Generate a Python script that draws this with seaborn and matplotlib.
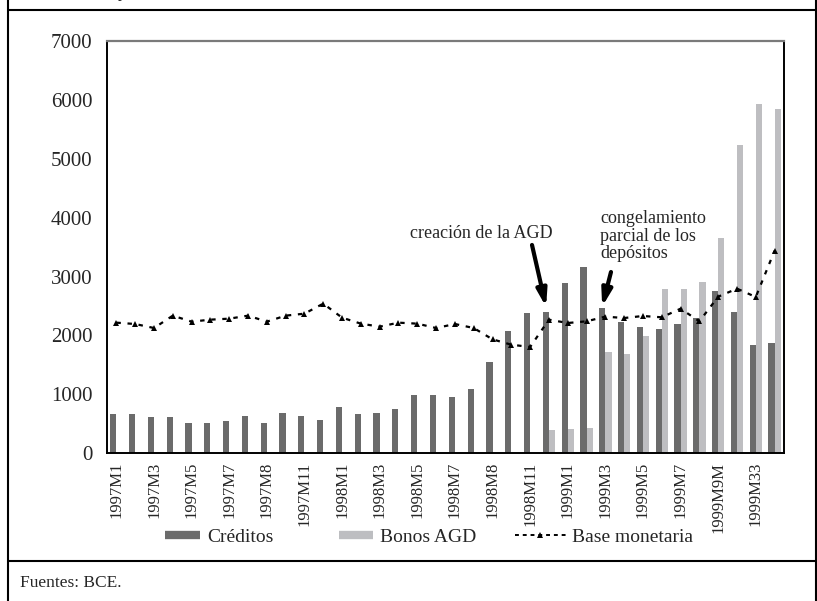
import numpy as np
import pandas as pd
import matplotlib
matplotlib.use("Agg")
import matplotlib.pyplot as plt
from matplotlib.lines import Line2D
import seaborn as sns

# ---------------- data ----------------
categories = [f"c{i}" for i in range(36)]
tick_labels = ["1997M1", "1997M3", "1997M5", "1997M7", "1997M8", "1997M11",
               "1998M1", "1998M3", "1998M5", "1998M7", "1998M8", "1998M11",
               "1999M1", "1999M3", "1999M5", "1999M7", "1999M9M", "1999M33"]
creditos = [667, 667, 616, 616, 514, 514, 548, 633, 514, 684, 633, 565,
            786, 667, 684, 752, 990, 990, 956, 1092, 1550, 2077, 2382, 2399,
            2891, 3163, 2467, 2229, 2144, 2110, 2195, 2302, 2761, 2399, 1844, 1873]
bonos = [np.nan] * 23 + [396, 418, 435, 1720, 1691, 1991, 2795, 2795, 2914,
                         3655, 5240, 5930, 5846]
base_monetaria = [2218, 2195, 2127, 2337, 2235, 2269, 2286, 2337, 2235, 2337,
                  2371, 2541, 2303, 2201, 2150, 2218, 2201, 2127, 2195, 2127,
                  1935, 1844, 1805, 2269, 2212, 2241, 2320, 2297, 2331, 2309,
                  2455, 2241, 2659, 2795, 2654, 3440]
series_names = ["Créditos", "Bonos AGD", "Base monetaria"]
annot1 = "creación de la AGD"
annot2 = "congelamiento\nparcial de los\ndepósitos"
footer = "Fuentes: BCE."

col_cred = "#6b6b6b"
col_bonos = "#bdbec1"

# ---------------- figure ----------------
sns.set_style("white")
plt.rcParams["font.family"] = ["Liberation Serif", "DejaVu Serif"]

fig = plt.figure(figsize=(8.17, 6.01), dpi=100)
ax = fig.add_axes([107 / 817, 1 - 453.3 / 601, (784 - 107) / 817, (453.3 - 41) / 601])

df = pd.DataFrame({
    "cat": categories * 2,
    "serie": [series_names[0]] * 36 + [series_names[1]] * 36,
    "val": creditos + bonos,
}).dropna()

sns.barplot(data=df, x="cat", y="val", hue="serie", order=categories,
            hue_order=series_names[:2], palette=[col_cred, col_bonos],
            width=0.66, linewidth=0, legend=False, ax=ax, errorbar=None)

xpos = np.arange(len(categories))
ax.plot(xpos, base_monetaria, color="black", linestyle=(0, (2, 3)), lw=1.6,
        marker="^", markersize=5, markeredgewidth=0)

ax.set_xlim(-0.5, 35.5)
ax.set_ylim(0, 7000)
ax.set_yticks(range(0, 7001, 1000))
ax.set_xlabel("")
ax.set_ylabel("")

ax.set_xticks(xpos[::2])
ax.set_xticklabels(tick_labels, rotation=90, fontsize=12)
ax.tick_params(axis="x", length=0, pad=6)
ax.set_xticks(np.arange(-0.5, 36, 1), minor=True)
ax.tick_params(axis="x", which="minor", direction="inout", length=9, width=1.2, color="black")
ax.tick_params(axis="y", direction="inout", length=9, width=1.2, color="black",
               labelsize=15, pad=6)

for s in ["left", "bottom", "right"]:
    ax.spines[s].set_visible(True)
    ax.spines[s].set_color("black")
    ax.spines[s].set_linewidth(1.4)
ax.spines["top"].set_visible(True)
ax.spines["top"].set_color("#7a7a7a")
ax.spines["top"].set_linewidth(1.6)

# annotations
ax.text(15.6, 3740, annot1, fontsize=13, va="center", ha="left")
ax.annotate("", xy=(22.85, 2484), xytext=(22.1, 3537),
            arrowprops=dict(arrowstyle="-|>,head_length=1.0,head_width=0.3",
                            lw=3, color="black", shrinkA=0, shrinkB=0))
ax.text(25.72, 3240, annot2, fontsize=13, va="bottom", ha="left", linespacing=1.05)
ax.annotate("", xy=(25.83, 2489), xytext=(26.3, 3078),
            arrowprops=dict(arrowstyle="-|>,head_length=1.0,head_width=0.3",
                            lw=3, color="black", shrinkA=0, shrinkB=0))

# legend (three single-entry legends placed like the reference)
handles = [
    Line2D([], [], color=col_cred, lw=6, solid_capstyle="butt"),
    Line2D([], [], color=col_bonos, lw=6, solid_capstyle="butt"),
    Line2D([], [], color="black", linestyle=(0, (2, 2)), lw=1.4, marker="^",
           markersize=4, markeredgewidth=0),
]
leg_x = [165, 339, 515]
leg_hl = [1.8, 1.75, 2.6]
for h, name, x0, hl in zip(handles, series_names, leg_x, leg_hl):
    fig.legend([h], [name], loc="center left", bbox_to_anchor=(x0 / 817, 1 - 537 / 601),
               frameon=False, fontsize=14, handlelength=hl, handletextpad=0.35,
               borderpad=0, borderaxespad=0, numpoints=1)

# outer frame
frame_kw = dict(color="black", lw=1.5, transform=fig.transFigure, clip_on=False)
fig.add_artist(Line2D([8 / 817, 1], [1 - 10 / 601, 1 - 10 / 601], **frame_kw))
fig.add_artist(Line2D([8 / 817, 1], [1 - 561 / 601, 1 - 561 / 601], **frame_kw))
fig.add_artist(Line2D([8 / 817, 8 / 817], [0, 1], **frame_kw))
fig.add_artist(Line2D([815.5 / 817, 815.5 / 817], [0, 1], **frame_kw))

# cropped italic title remnant (only the descender is visible in the reference)
fig.text(120 / 817, 1 + 3 / 601, "y", fontsize=14, style="italic", va="baseline")
fig.text(20 / 817, 1 - 583 / 601, footer, fontsize=12.5, va="center", ha="left")

fig.savefig("out.png", dpi=100)
